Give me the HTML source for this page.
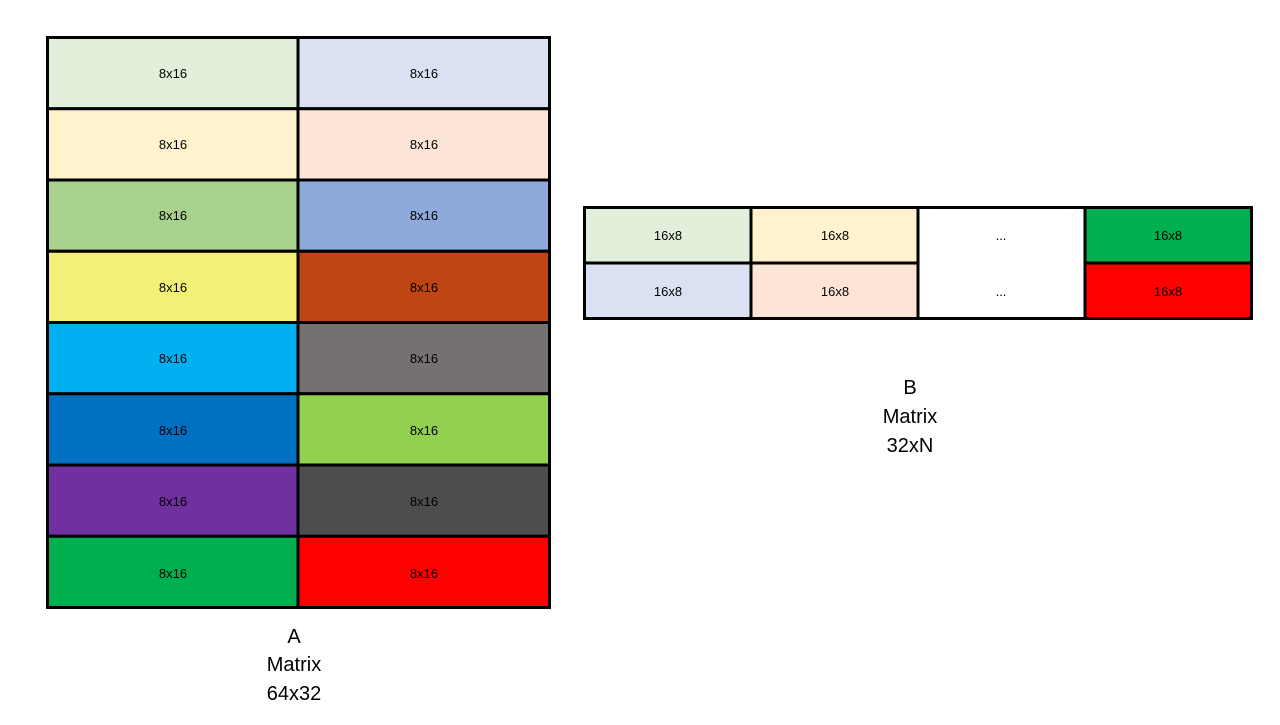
<!DOCTYPE html>
<html><head><meta charset="utf-8"><style>
html,body{margin:0;padding:0;background:#fff;}
svg text{font-family:"Liberation Sans",sans-serif;}
</style></head><body>
<svg width="1280" height="720" xmlns="http://www.w3.org/2000/svg">
<g stroke="#000" stroke-width="3" font-size="13" text-anchor="middle">
<!-- A matrix -->
<g id="a">
<rect x="47.5" y="37.5" width="250.5" height="71.25" fill="#E2EFDA"/>
<rect x="298" y="37.5" width="251.5" height="71.25" fill="#D9E1F2"/>
<rect x="47.5" y="108.75" width="250.5" height="71.25" fill="#FFF2CC"/>
<rect x="298" y="108.75" width="251.5" height="71.25" fill="#FCE4D6"/>
<rect x="47.5" y="180" width="250.5" height="71.25" fill="#A9D18E"/>
<rect x="298" y="180" width="251.5" height="71.25" fill="#8EA9DB"/>
<rect x="47.5" y="251.25" width="250.5" height="71.25" fill="#F2F077"/>
<rect x="298" y="251.25" width="251.5" height="71.25" fill="#C04514"/>
<rect x="47.5" y="322.5" width="250.5" height="71.25" fill="#00B0F0"/>
<rect x="298" y="322.5" width="251.5" height="71.25" fill="#767171"/>
<rect x="47.5" y="393.75" width="250.5" height="71.25" fill="#0070C0"/>
<rect x="298" y="393.75" width="251.5" height="71.25" fill="#92D050"/>
<rect x="47.5" y="465" width="250.5" height="71.25" fill="#7030A0"/>
<rect x="298" y="465" width="251.5" height="71.25" fill="#4D4D4D"/>
<rect x="47.5" y="536.25" width="250.5" height="71.25" fill="#00B050"/>
<rect x="298" y="536.25" width="251.5" height="71.25" fill="#FF0000"/>
</g>
<!-- B matrix -->
<rect x="584.5" y="207.5" width="166.5" height="55.5" fill="#E2EFDA"/>
<rect x="751" y="207.5" width="167" height="55.5" fill="#FFF2CC"/>
<rect x="918" y="207.5" width="167" height="111" fill="#FFFFFF"/>
<rect x="1085" y="207.5" width="166.5" height="55.5" fill="#00B050"/>
<rect x="584.5" y="263" width="166.5" height="55.5" fill="#D9E1F2"/>
<rect x="751" y="263" width="167" height="55.5" fill="#FCE4D6"/>
<rect x="1085" y="263" width="166.5" height="55.5" fill="#FF0000"/>
</g>
<g font-size="13" text-anchor="middle" fill="#000">
<text x="173" y="78">8x16</text><text x="424" y="78">8x16</text>
<text x="173" y="149">8x16</text><text x="424" y="149">8x16</text>
<text x="173" y="220">8x16</text><text x="424" y="220">8x16</text>
<text x="173" y="292">8x16</text><text x="424" y="292">8x16</text>
<text x="173" y="363">8x16</text><text x="424" y="363">8x16</text>
<text x="173" y="435">8x16</text><text x="424" y="435">8x16</text>
<text x="173" y="506">8x16</text><text x="424" y="506">8x16</text>
<text x="173" y="578">8x16</text><text x="424" y="578">8x16</text>
<text x="668" y="240">16x8</text><text x="835" y="240">16x8</text>
<text x="1001" y="240">...</text><text x="1168" y="240">16x8</text>
<text x="668" y="296">16x8</text><text x="835" y="296">16x8</text>
<text x="1001" y="296">...</text><text x="1168" y="296">16x8</text>
</g>
<g font-size="20" text-anchor="middle" fill="#000">
<text x="294" y="643">A</text>
<text x="294" y="671">Matrix</text>
<text x="294" y="700">64x32</text>
<text x="910" y="394">B</text>
<text x="910" y="423">Matrix</text>
<text x="910" y="452">32xN</text>
</g>
</svg>
</body></html>
